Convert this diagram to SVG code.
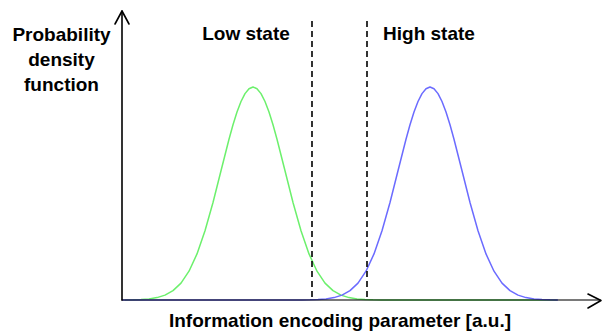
<svg xmlns="http://www.w3.org/2000/svg" width="605" height="334" viewBox="0 0 605 334">
<style>
.lbl{font-family:"Liberation Sans",Arial,sans-serif;font-weight:bold;font-size:19px;fill:#000;text-anchor:middle}
.axis{fill:none;stroke:#000;stroke-width:1.6;stroke-linecap:round;stroke-linejoin:round}
.dash{fill:none;stroke:#000;stroke-width:1.6;stroke-dasharray:6 4}
.curve{fill:none;stroke-width:1.5;stroke-linejoin:round}
</style>
<rect width="605" height="334" fill="#fff"/>
<g id="curves">
<polyline id="low-state-curve" class="curve" stroke="#6cf06c" points="125,299.9 133,299.8 141,299.5 149,298.9 157,297.6 165,295.1 173,290.6 181,283.1 189,271.2 197,253.9 205,230.8 213,202.5 221,170.8 229,139.2 233,124.8 237,112.0 241,101.5 245,93.6 249,88.7 253,87 257,88.7 261,93.6 265,101.5 269,112.0 273,124.8 277,139.2 285,170.8 293,202.5 301,230.8 309,253.9 317,271.2 325,283.1 333,290.6 341,295.1 349,297.6 357,298.9 365,299.5 373,299.8 381,299.9 557,300"/>
<polyline id="high-state-curve" class="curve" stroke="#6b6bff" points="122,300 302,299.9 310,299.8 318,299.5 326,298.9 334,297.6 342,295.1 350,290.6 358,283.1 366,271.2 374,253.9 382,230.8 390,202.5 398,170.8 406,139.2 410,124.8 414,112.0 418,101.5 422,93.6 426,88.7 430,87 434,88.7 438,93.6 442,101.5 446,112.0 450,124.8 454,139.2 462,170.8 470,202.5 478,230.8 486,253.9 494,271.2 502,283.1 510,290.6 518,295.1 526,297.6 534,298.9 542,299.5 550,299.8 558,299.9"/>
</g>
<g id="axes">
<line class="axis" x1="122" y1="300" x2="122" y2="11"/>
<polyline class="axis" points="115,24 122,11 129,24"/>
<line class="axis" x1="122" y1="300" x2="600" y2="300" stroke-opacity="0.7"/>
<polyline class="axis" points="588,294 601,300.5 588,308"/>
</g>
<g id="thresholds">
<line class="dash" x1="312" y1="21" x2="312" y2="300"/>
<line class="dash" x1="367" y1="21" x2="367" y2="300"/>
</g>
<g id="labels">
<text class="lbl" x="61.5" y="41">Probability</text>
<text class="lbl" x="61.5" y="66">density</text>
<text class="lbl" x="61.5" y="91">function</text>
<text class="lbl" x="246" y="40">Low state</text>
<text class="lbl" x="429" y="40">High state</text>
<text class="lbl" x="340" y="327">Information encoding parameter [a.u.]</text>
</g>
</svg>
